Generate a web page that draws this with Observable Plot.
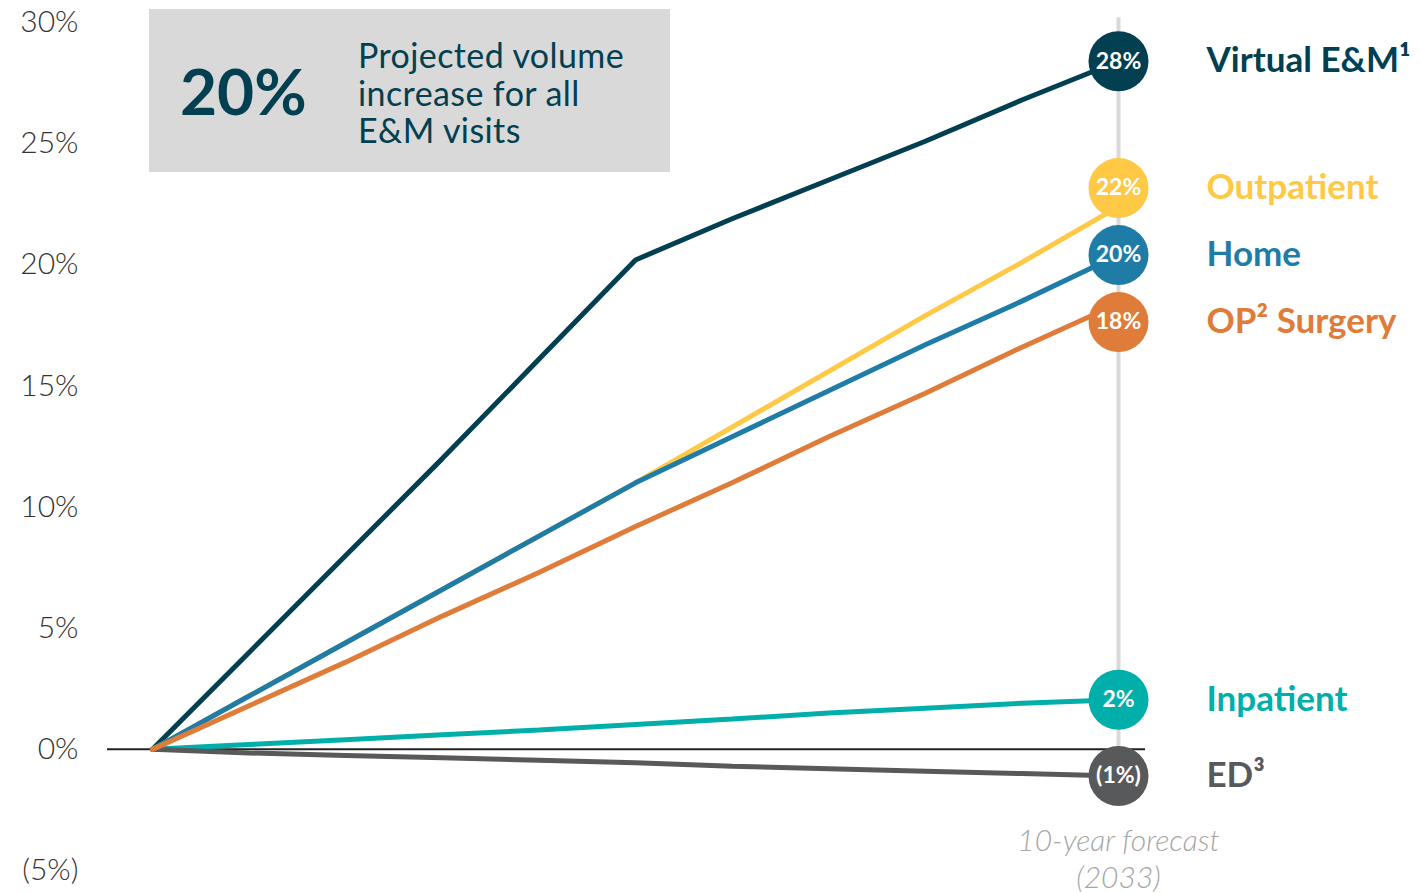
<!DOCTYPE html>
<html>
<head>
<meta charset="utf-8">
<script src="https://cdn.jsdelivr.net/npm/d3@7"></script>
<script src="https://cdn.jsdelivr.net/npm/@observablehq/plot@0.6"></script>
<style>
  html, body { margin: 0; padding: 0; background: #fff; }
  #wrap { position: relative; width: 1420px; height: 893px; font-family: Lato, "Open Sans", sans-serif; }
  #box { position: absolute; left: 149px; top: 9px; width: 521px; height: 163px; background: #D9D9D9; }
  #big { position: absolute; left: 31px; top: 50px; font-size: 64px; line-height: 64px; font-weight: 700; color: #023F50; }
  #desc { position: absolute; left: 209px; top: 27px; font-size: 34px; line-height: 37.5px; font-weight: 400; letter-spacing: 0.4px; color: #023F50; }
</style>
</head>
<body>
<div id="wrap">
  <div id="chart"></div>
  <div id="box"><div id="big">20%</div><div id="desc">Projected volume<br>increase for all<br>E&amp;M visits</div></div>
</div>
<script>
// ---- Data ----
const years = [2023, 2024, 2025, 2026, 2027, 2028, 2029, 2030, 2031, 2032, 2033];
const seriesNames = ["Virtual E&M¹", "Outpatient", "Home", "Inpatient", "ED³", "OP² Surgery"];
const seriesColors = ["#023F50", "#FFC845", "#1F7CA6", "#00AFA9", "#58595B", "#E07C3A"];
const virtualEM  = [0, 4.0, 8.0, 12.0, 16.1, 20.2, 21.9, 23.5, 25.1, 26.8, 28.4];
const outpatient = [0, 2.2, 4.4, 6.6, 8.8, 11.0, 13.3, 15.6, 17.9, 20.1, 22.4];
const home       = [0, 2.2, 4.4, 6.6, 8.8, 11.0, 12.9, 14.8, 16.7, 18.5, 20.4];
const inpatient  = [0, 0.2, 0.4, 0.6, 0.8, 1.03, 1.25, 1.5, 1.7, 1.9, 2.05];
const ed         = [0, -0.15, -0.25, -0.35, -0.45, -0.55, -0.7, -0.8, -0.9, -1.0, -1.1];
const opSurgery  = [0, 1.8, 3.6, 5.5, 7.3, 9.2, 11.0, 12.9, 14.7, 16.6, 18.4];
const seriesValues = [virtualEM, outpatient, home, inpatient, ed, opSurgery];
const endLabels = ["28%", "22%", "20%", "2%", "(1%)", "18%"];
const yTicks = [-5, 0, 5, 10, 15, 20, 25, 30];
const xTickYears = [2033];
const xTickLabels = ["10-year forecast\n(2033)"];

// ---- Build tidy data ----
const rows = seriesNames.flatMap((name, i) => years.map((year, j) => ({ series: name, year, value: seriesValues[i][j] })));

const W = 1420, H = 893, mT = 22, mB = 23, mL = 152, mR = 302;
const yDomain = [-5, 30];
const yScale = Plot.scale({ y: { domain: yDomain, range: [H - mB, mT] } });

// end labels with simple vertical relaxation (avoid overlapping circles)
const ends = seriesNames.map((name, i) => ({
  series: name,
  year: years[years.length - 1],
  value: seriesValues[i][years.length - 1],
  label: endLabels[i]
}));
const gap = 67;
const sorted = ends.map(d => ({ d, py: yScale.apply(d.value) })).sort((a, b) => a.py - b.py);
for (let it = 0; it < 300; it++) {
  for (let k = 1; k < sorted.length; k++) {
    const diff = sorted[k].py - sorted[k - 1].py;
    if (diff < gap) {
      const push = (gap - diff) / 2;
      sorted[k - 1].py -= push;
      sorted[k].py += push;
    }
  }
}
sorted.forEach(s => { s.d.labelY = yScale.invert(s.py); });

const pctFmt = d => d < 0 ? `(${-d}%)` : `${d}%`;

const chart = Plot.plot({
  width: W, height: H,
  marginTop: mT, marginBottom: mB, marginLeft: mL, marginRight: mR,
  style: { fontFamily: "Lato, 'Open Sans', sans-serif", background: "#fff", overflow: "visible" },
  x: { domain: [years[0], years[years.length - 1]], axis: null },
  y: { domain: yDomain },
  color: { domain: seriesNames, range: seriesColors },
  marks: [
    Plot.ruleX(xTickYears, { y1: 30.2, y2: -2.2, stroke: "#D9D9D9", strokeWidth: 4 }),
    Plot.ruleY([0], { stroke: "#222", strokeWidth: 2, insetLeft: -45, insetRight: -27 }),
    Plot.line(rows, { x: "year", y: "value", z: "series", stroke: "series", strokeWidth: 5, strokeLinejoin: "miter", strokeLinecap: "round" }),
    Plot.dot(ends, { x: "year", y: "labelY", r: 30, fill: "series", stroke: null }),
    Plot.text(ends, { x: "year", y: "labelY", text: "label", fill: "white", fontSize: 23, fontWeight: 700 }),
    Plot.text(ends, { x: "year", y: "labelY", text: "series", fill: "series", fontSize: 35, fontWeight: 700, textAnchor: "start", dx: 88 }),
    Plot.axisY({ ticks: yTicks, tickFormat: pctFmt, tickSize: 0, tickPadding: 74, fontSize: 30, fontWeight: 300, color: "#333" }),
    Plot.text(xTickYears, { x: d => d, y: yDomain[0], text: (d, i) => xTickLabels[i], dy: -13, lineAnchor: "middle", lineHeight: 1.23, fontStyle: "italic", fontWeight: 300, fill: "#A6A6A6", fontSize: 30 })
  ]
});
document.getElementById("chart").appendChild(chart);
</script>
</body>
</html>
